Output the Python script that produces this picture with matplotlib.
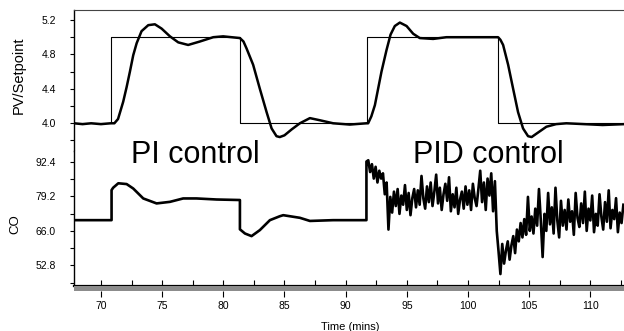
import numpy as np
import matplotlib
matplotlib.use("Agg")
import matplotlib.pyplot as plt

plt.rcParams['font.family'] = ['Liberation Sans', 'DejaVu Sans']

# -------------------------------
# Data
# -------------------------------
# setpoint: change times and levels
sp_t = [67.8, 70.82, 81.36, 91.71, 102.46, 112.8]
sp_v = [4.0, 5.0, 4.0, 5.0, 4.0, 4.0]

# process variable (PI then PID)
pv_t = [67.8, 68.5, 69.2, 70.0, 70.8, 71.1, 71.4, 71.82, 72.1, 72.37, 72.64,
        72.92, 73.32, 73.87, 74.41, 74.96, 75.64, 76.32, 77.13, 78.09, 79.18,
        79.99, 81.36, 81.65, 81.9, 82.44, 82.99, 83.54, 83.95, 84.35, 84.62,
        85.0, 85.6, 86.26, 87.08, 87.9, 88.98, 90.34, 91.7, 91.84, 92.1, 92.39,
        92.93, 93.34, 93.67, 94.02, 94.43, 94.98, 95.52, 96.06, 97.15, 98.24,
        99.5, 101.24, 102.46, 102.65, 102.87, 103.28, 103.69, 104.09, 104.5,
        104.91, 105.2, 105.6, 106.41, 107.2, 108.04, 109.5, 111.0, 112.8]
pv_v = [4.0, 3.99, 4.0, 3.99, 4.0, 4.0, 4.05, 4.25, 4.42, 4.60, 4.79,
        4.93, 5.07, 5.14, 5.15, 5.10, 5.01, 4.94, 4.91, 4.95, 5.00,
        5.01, 4.99, 4.95, 4.87, 4.68, 4.40, 4.13, 3.94, 3.85, 3.84,
        3.86, 3.93, 4.00, 4.06, 4.035, 4.0, 3.985, 4.0, 4.0, 4.08, 4.21,
        4.60, 4.85, 5.03, 5.13, 5.17, 5.13, 5.04, 4.99, 4.98, 5.0,
        5.0, 5.0, 5.0, 4.97, 4.91, 4.68, 4.40, 4.13, 3.94,
        3.85, 3.84, 3.88, 3.96, 3.99, 4.0, 3.99, 3.98, 3.99]

# controller output, PI part (smooth)
co_pi_t = [67.8, 70.87, 70.87, 71.0, 71.42, 72.1, 72.64, 73.46, 74.55, 75.64,
           76.72, 77.81, 79.45, 81.36, 81.36, 81.77, 82.31, 82.99, 83.81,
           84.62, 84.9, 86.26, 87.08, 88.98, 91.7]
co_pi_v = [70.1, 70.1, 81.6, 82.5, 84.2, 83.9, 82.2, 78.4, 76.5, 77.1,
           78.4, 78.4, 78.0, 77.8, 66.6, 65.0, 64.0, 66.3, 70.1,
           71.6, 72.0, 71.0, 69.8, 70.1, 70.1]

# controller output, PID part (noisy), one sample every 0.15 min from 91.7
co_pid_start = 91.7
co_pid_dt = 0.15
co_pid_v = [92.5, 93.0, 88.5, 91.5, 86.0, 90.5, 84.5, 89.0, 86.0,
            88.0, 80.0, 84.5, 66.5,
            79.0, 73.0, 81.0, 75.5, 82.0, 72.5, 79.5, 76.0, 83.5, 74.0, 80.5,
            72.0, 78.5, 82.0, 75.0,
            81.5, 76.0, 87.0, 78.5, 74.5, 83.0, 77.0, 84.5, 75.5, 81.0, 87.5,
            76.5, 82.5, 74.0, 80.0, 84.0, 77.5,
            86.5, 73.5, 80.0, 75.0, 82.5, 72.5, 78.0, 81.0, 74.5,
            83.0, 76.0, 81.5, 74.0, 84.0, 78.5, 75.5, 82.0, 89.0, 77.0,
            84.5, 74.0, 86.0, 79.5, 88.0, 73.5, 85.0, 66.0, 58.0,
            49.5,
            61.0, 53.5, 58.5, 62.0, 55.0, 60.5, 64.0, 57.5,
            66.5, 62.0, 69.0, 63.5, 70.5, 64.5, 79.0, 66.0, 71.5, 65.0,
            74.5, 68.0, 82.0, 70.0, 56.0, 72.5, 66.0,
            80.5, 68.5, 75.0, 65.0, 82.5, 70.0, 63.5, 77.5, 68.0, 74.0, 66.5,
            78.0, 69.5, 73.5, 64.5, 80.5, 71.0, 67.5, 76.5, 69.0, 81.0, 66.0,
            74.5, 70.0, 79.5, 65.5, 72.5, 68.0, 80.0, 71.5, 66.5, 77.0, 69.5,
            81.5, 67.0, 74.0, 70.5, 78.5, 65.5, 73.0, 69.0, 76.0]

pv_ticks = [4.0, 4.4, 4.8, 5.2]
pv_minor = [3.8, 4.2, 4.6, 5.0]
co_ticks = [52.8, 66.0, 79.2, 92.4]
co_minor = [46.2, 59.4, 72.6, 85.8]
time_ticks = [70, 75, 80, 85, 90, 95, 100, 105, 110]

# -------------------------------
# Layout (pixel positions of the reference)
# -------------------------------
W, H = 624, 331
fig = plt.figure(figsize=(W / 100, H / 100), dpi=100)

left = 74 / W
xlim = (67.8, 112.75)
top_y, mid_y, bot_y = 10, 151, 286

ax_pv = fig.add_axes([left, 1 - mid_y / H, 1 - left, (mid_y - top_y) / H])
ax_co = fig.add_axes([left, 1 - bot_y / H, 1 - left, (bot_y - mid_y) / H])
ax_t = fig.add_axes([left, 1 - 291 / H, 1 - left, 5 / H])

# -------------------------------
# Top: PV / setpoint
# -------------------------------
ax_pv.plot(sp_t, sp_v, drawstyle='steps-post', color='black', lw=0.8)
ax_pv.plot(pv_t, pv_v, color='black', lw=1.8)
ax_pv.set_xlim(*xlim)
ax_pv.set_ylim(3.678, 5.316)
ax_pv.set_yticks(pv_ticks)
ax_pv.set_yticklabels(['%.1f' % v for v in pv_ticks])
ax_pv.set_yticks(pv_minor, minor=True)
ax_pv.set_xticks([])
ax_pv.tick_params(axis='y', which='both', direction='out', length=3,
                  width=0.8, pad=10, labelsize=7.5)
for s in ['right', 'bottom']:
    ax_pv.spines[s].set_visible(False)
ax_pv.spines['top'].set_color('#444444')
ax_pv.spines['left'].set_linewidth(1.0)

# -------------------------------
# Bottom: controller output
# -------------------------------
pid_t = co_pid_start + co_pid_dt * np.arange(len(co_pid_v))
co_t = list(co_pi_t) + list(pid_t)
co_v = list(co_pi_v) + co_pid_v
ax_co.plot(co_t, co_v, color='black', lw=1.9)
ax_co.set_xlim(*xlim)
ax_co.set_ylim(44.93, 96.54)
ax_co.set_yticks(co_ticks)
ax_co.set_yticklabels(['%.1f' % v for v in co_ticks])
ax_co.set_yticks(co_minor, minor=True)
ax_co.set_xticks(np.arange(70, 113, 2.5))
ax_co.set_xticklabels([])
ax_co.tick_params(axis='y', which='both', direction='out', length=3,
                  width=0.8, pad=10, labelsize=7.5)
ax_co.tick_params(axis='x', direction='in', length=4, width=0.8)
for s in ['right', 'top']:
    ax_co.spines[s].set_visible(False)
ax_co.spines['bottom'].set_linewidth(1.6)
ax_co.spines['left'].set_linewidth(1.0)

# -------------------------------
# Time scale bar
# -------------------------------
ax_t.set_facecolor('#8c8c8c')
ax_t.set_xlim(*xlim)
ax_t.set_yticks([])
ax_t.set_xticks(time_ticks)
ax_t.set_xticklabels([str(t) for t in time_ticks])
ax_t.tick_params(axis='x', direction='out', length=4, width=0.8, pad=3,
                 labelsize=7.5)
for s in ax_t.spines.values():
    s.set_visible(False)

# -------------------------------
# Text
# -------------------------------
fig.text(19 / W, 1 - 75 / H, 'PV/Setpoint', rotation=90, ha='center',
         va='center', fontsize=10.5)
fig.text(15 / W, 1 - 224 / H, 'CO', rotation=90, ha='center', va='center',
         fontsize=9.5)
fig.text(350 / W, 1 - 327 / H, 'Time (mins)', ha='center', va='center',
         fontsize=8)
fig.text(195 / W, 1 - 163 / H, 'PI control', ha='center', va='baseline',
         fontsize=22)
fig.text(488 / W, 1 - 163 / H, 'PID control', ha='center', va='baseline',
         fontsize=22)

fig.savefig('out.png', dpi=100)
